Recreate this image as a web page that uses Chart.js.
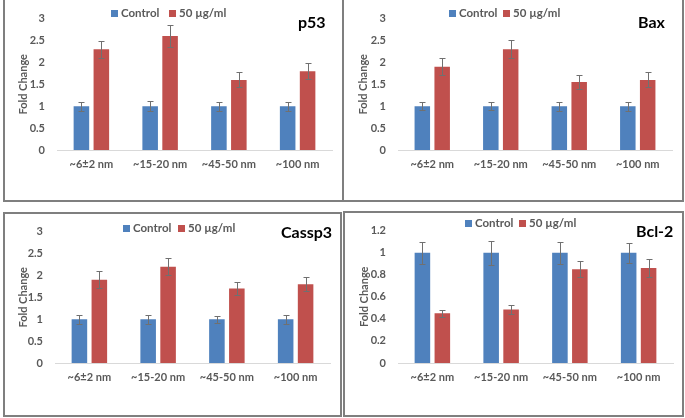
<!DOCTYPE html>
<html>
<head>
<meta charset="utf-8">
<script src="https://cdn.jsdelivr.net/npm/chart.js@4.4.0/dist/chart.umd.min.js"></script>
<style>
  body { margin: 0; width: 685px; height: 418px; background: #fff; position: relative; overflow: hidden; font-family: Lato, sans-serif; }
  .panel { position: absolute; border: 2px solid #7f7f7f; box-sizing: border-box; }
  .box { position: absolute; }
  .item { position: absolute; font-size: 11.5px; font-weight: bold; color: #595959; white-space: nowrap; line-height: 14px; }
  .item i { display: inline-block; width: 7px; height: 7px; margin-right: 3px; vertical-align: 0px; }
  .title { position: absolute; font-size: 16px; font-weight: bold; color: #000; line-height: 18px; white-space: nowrap; }
</style>
</head>
<body>
<div class="panel" style="left:3px;top:-2px;width:341px;height:204px"></div>
<div class="panel" style="left:342px;top:-2px;width:342px;height:204px"></div>
<div class="panel" style="left:3px;top:212px;width:339px;height:205px"></div>
<div class="panel" style="left:343px;top:211px;width:341px;height:206px"></div>

<div class="box" style="left:3px;top:0;width:340px;height:202px"><canvas id="p53"></canvas></div>
<div class="box" style="left:343px;top:0;width:340px;height:202px"><canvas id="bax"></canvas></div>
<div class="box" style="left:3px;top:213px;width:338px;height:203px"><canvas id="cassp3"></canvas></div>
<div class="box" style="left:344px;top:212px;width:339px;height:204px"><canvas id="bcl2"></canvas></div>

<div class="item" style="left:111px;top:6px"><i style="background:#4F81BD"></i>Control</div>
<div class="item" style="left:169px;top:6px"><i style="background:#C0504D"></i>50 µg/ml</div>
<div class="title" style="left:298px;top:13px">p53</div>

<div class="item" style="left:449px;top:6px"><i style="background:#4F81BD"></i>Control</div>
<div class="item" style="left:503px;top:6px"><i style="background:#C0504D"></i>50 µg/ml</div>
<div class="title" style="left:638px;top:13px">Bax</div>

<div class="item" style="left:123px;top:221px"><i style="background:#4F81BD"></i>Control</div>
<div class="item" style="left:178px;top:221px"><i style="background:#C0504D"></i>50 µg/ml</div>
<div class="title" style="left:281px;top:223px">Cassp3</div>

<div class="item" style="left:465px;top:216px"><i style="background:#4F81BD"></i>Control</div>
<div class="item" style="left:519px;top:216px"><i style="background:#C0504D"></i>50 µg/ml</div>
<div class="title" style="left:636px;top:222px">Bcl-2</div>

<script>
const categories = ['~6±2 nm', '~15-20 nm', '~45-50 nm', '~100 nm'];

const p53Control = [1, 1, 1, 1];
const p53ControlErr = [0.1, 0.11, 0.1, 0.1];
const p53Treated = [2.3, 2.6, 1.6, 1.8];
const p53TreatedErr = [0.2, 0.25, 0.17, 0.18];

const baxControl = [1, 1, 1, 1];
const baxControlErr = [0.09, 0.09, 0.1, 0.1];
const baxTreated = [1.9, 2.3, 1.55, 1.6];
const baxTreatedErr = [0.19, 0.21, 0.16, 0.17];

const cassp3Control = [1, 1, 1, 1];
const cassp3ControlErr = [0.1, 0.1, 0.08, 0.1];
const cassp3Treated = [1.9, 2.2, 1.7, 1.8];
const cassp3TreatedErr = [0.19, 0.19, 0.15, 0.16];

const bcl2Control = [1, 1, 1, 1];
const bcl2ControlErr = [0.1, 0.11, 0.1, 0.09];
const bcl2Treated = [0.45, 0.485, 0.85, 0.86];
const bcl2TreatedErr = [0.03, 0.045, 0.07, 0.08];

const errorBars = {
  id: 'errorBars',
  afterDatasetsDraw(chart) {
    const { ctx } = chart;
    const y = chart.scales.y;
    ctx.save();
    ctx.strokeStyle = '#707070';
    ctx.lineWidth = 1;
    chart.data.datasets.forEach((ds, i) => {
      chart.getDatasetMeta(i).data.forEach((bar, j) => {
        const x = Math.round(bar.x) + 0.5;
        const top = Math.round(y.getPixelForValue(ds.data[j] + ds.errors[j])) + 0.5;
        const bot = Math.round(y.getPixelForValue(ds.data[j] - ds.errors[j])) + 0.5;
        ctx.beginPath();
        ctx.moveTo(x, top); ctx.lineTo(x, bot);
        ctx.moveTo(x - 3, top); ctx.lineTo(x + 3, top);
        ctx.moveTo(x - 3, bot); ctx.lineTo(x + 3, bot);
        ctx.stroke();
      });
    });
    ctx.restore();
  }
};

function makeChart(id, control, controlErr, treated, treatedErr, yMax, yStep, area) {
  const canvas = document.getElementById(id);
  const H = canvas.parentNode.clientHeight;
  const W = canvas.parentNode.clientWidth;
  const padLeft = 10;
  return new Chart(canvas, {
    type: 'bar',
    data: {
      labels: categories,
      datasets: [
        { label: 'Control', data: control, errors: controlErr, backgroundColor: '#4F81BD' },
        { label: '50 µg/ml', data: treated, errors: treatedErr, backgroundColor: '#C0504D' }
      ]
    },
    plugins: [errorBars],
    options: {
      responsive: true,
      maintainAspectRatio: false,
      animation: false,
      devicePixelRatio: 1,
      layout: { padding: { left: padLeft, top: area.top, right: W - area.right, bottom: 0 } },
      datasets: { bar: { categoryPercentage: 0.58, barPercentage: 0.78 } },
      plugins: { legend: { display: false }, tooltip: { enabled: false } },
      scales: {
        x: {
          grid: { display: false, drawTicks: false },
          border: { display: true, color: '#d9d9d9', width: 1 },
          ticks: { color: '#595959', padding: 8, font: { family: 'Lato', size: 11, weight: 'bold' }, maxRotation: 0 },
          afterFit: s => { s.height = H - area.bottom; }
        },
        y: {
          min: 0,
          max: yMax,
          grid: { display: false, drawTicks: false },
          border: { display: false },
          ticks: {
            stepSize: yStep,
            color: '#595959',
            padding: 12,
            font: { family: 'Lato', size: 11, weight: 'bold' },
            callback: v => String(Math.round(v * 10) / 10)
          },
          title: { display: true, text: 'Fold Change', color: '#595959', padding: { top: 4, bottom: 4 }, font: { family: 'Lato', size: 11, weight: 'bold' } },
          afterFit: s => { s.width = area.left - padLeft; }
        }
      }
    }
  });
}

makeChart('p53', p53Control, p53ControlErr, p53Treated, p53TreatedErr, 3, 0.5, { left: 54, top: 12, right: 329, bottom: 150 });
makeChart('bax', baxControl, baxControlErr, baxTreated, baxTreatedErr, 3, 0.5, { left: 55, top: 12, right: 329, bottom: 150 });
makeChart('cassp3', cassp3Control, cassp3ControlErr, cassp3Treated, cassp3TreatedErr, 3, 0.5, { left: 52, top: 13, right: 327, bottom: 150 });
makeChart('bcl2', bcl2Control, bcl2ControlErr, bcl2Treated, bcl2TreatedErr, 1.2, 0.2, { left: 54, top: 14, right: 329, bottom: 151 });
</script>
</body>
</html>
